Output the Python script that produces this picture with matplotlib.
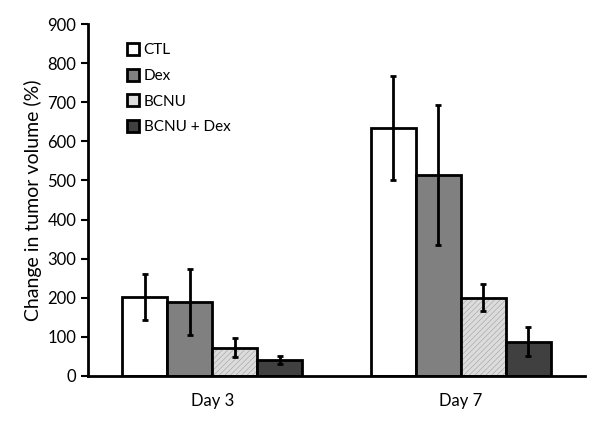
import numpy as np
import matplotlib.pyplot as plt

plt.rcParams['font.family'] = ['Lato', 'DejaVu Sans']
plt.rcParams['hatch.linewidth'] = 0.4

days = ['Day 3', 'Day 7']
groups = ['CTL', 'Dex', 'BCNU', 'BCNU + Dex']
values = [[202, 634], [189, 514], [72, 200], [41, 87]]
errors = [[59, 133], [85, 180], [25, 35], [10, 37]]
colors = ['white', '#808080', '#dcdcdc', '#404040']

fig, ax = plt.subplots(figsize=(6, 4.32), dpi=100)
fig.subplots_adjust(left=0.147, right=0.975, bottom=0.13, top=0.944)

x = np.arange(len(days))
w = 0.181
for i, g in enumerate(groups):
    pos = x + (i - 1.5) * w
    if g == 'BCNU':
        # fine grey hatch underneath, black outline on top
        ax.bar(pos, values[i], w, color=colors[i], edgecolor='#a0a0a0',
               linewidth=0, hatch='//////', zorder=2)
        ax.bar(pos, values[i], w, fill=False, edgecolor='black', linewidth=2,
               zorder=2)
        ax.bar([np.nan], [np.nan], color=colors[i], edgecolor='black',
               linewidth=2, label=g)
    else:
        ax.bar(pos, values[i], w, color=colors[i], edgecolor='black',
               linewidth=2, label=g, zorder=2)
    ax.errorbar(pos, values[i], yerr=errors[i], fmt='none', ecolor='black',
                elinewidth=2, capsize=2.5, capthick=2, zorder=3)

ax.set_xlim(-0.5, 1.5)
ax.set_ylim(0, 900)
ax.set_yticks(range(0, 901, 100))
ax.set_xticks(x)
ax.set_xticklabels(days, fontsize=12)
ax.tick_params(axis='x', length=0, pad=12)
ax.tick_params(axis='y', labelsize=12, width=1.5, length=5)
ax.set_ylabel('Change in tumor volume (%)', fontsize=14)
for s in ['top', 'right']:
    ax.spines[s].set_visible(False)
for s in ['left', 'bottom']:
    ax.spines[s].set_linewidth(2)

ax.legend(loc='upper left', bbox_to_anchor=(0.05, 0.985), frameon=False,
          fontsize=11, handlelength=0.8, handleheight=0.8, handletextpad=0.3,
          labelspacing=0.75)

plt.savefig('out.png')
